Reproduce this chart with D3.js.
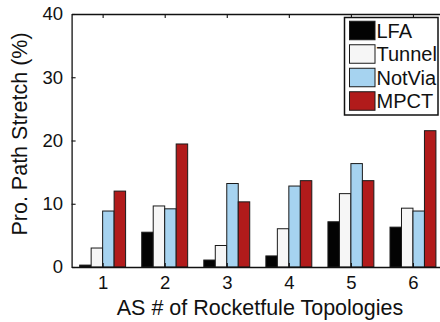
<!DOCTYPE html>
<html>
<head>
<meta charset="utf-8">
<script src="https://cdn.jsdelivr.net/npm/d3@7"></script>
<style>
html,body{margin:0;padding:0;background:#fff;}
svg{display:block;font-family:"Liberation Sans",Arial,Helvetica,sans-serif;}
</style>
</head>
<body>
<svg id="chart" width="440" height="322"></svg>
<script>
const categories = [1, 2, 3, 4, 5, 6];
const seriesNames = ["LFA", "Tunnel", "NotVia", "MPCT"];
const seriesColors = ["#030303", "#f6f6f6", "#a6d3f0", "#b11b1b"];
const LFA    = [0.3, 5.5, 1.1, 1.75, 7.15, 6.3];
const Tunnel = [3.0, 9.65, 3.4, 6.05, 11.6, 9.3];
const NotVia = [8.85, 9.2, 13.2, 12.8, 16.35, 8.85];
const MPCT   = [12.0, 19.45, 10.3, 13.65, 13.65, 21.55];
const yTicks = [0, 10, 20, 30, 40];
const xLabel = "AS # of Rocketfule Topologies";
const yLabel = "Pro. Path Stretch (%)";

const series = [LFA, Tunnel, NotVia, MPCT];

const svg = d3.select("#chart");
const pLeft = 71.6, pRight = 444, pTop = 14, pBottom = 267;
const x = d3.scaleLinear().domain([0.5, 6.5]).range([pLeft, pRight]);
const y = d3.scaleLinear().domain([0, 40]).range([pBottom, pTop]);
const barW = 0.185;

// bars
series.forEach((vals, si) => {
  svg.append("g").selectAll("rect").data(categories).join("rect")
    .attr("x", (c) => x(c + (si - 2) * barW))
    .attr("width", x(barW) - x(0))
    .attr("y", (c, i) => y(vals[i]))
    .attr("height", (c, i) => y(0) - y(vals[i]))
    .attr("fill", seriesColors[si])
    .attr("stroke", "#1a1a1a")
    .attr("stroke-width", 1);
});

// axes
const fs = 18.5;
const gl = svg.append("g").attr("transform", `translate(${pLeft},0)`)
  .call(d3.axisLeft(y).tickValues(yTicks).tickSizeInner(-4).tickSizeOuter(0).tickPadding(8.5).tickFormat(d3.format("d")));
const gb = svg.append("g").attr("transform", `translate(0,${pBottom})`)
  .call(d3.axisBottom(x).tickValues(categories).tickSizeInner(-4).tickSizeOuter(0).tickPadding(9).tickFormat(d3.format("d")));
const gt = svg.append("g").attr("transform", `translate(0,${pTop})`)
  .call(d3.axisTop(x).tickValues(categories).tickSizeInner(-4).tickSizeOuter(0).tickFormat(""));
const gr = svg.append("g").attr("transform", `translate(${pRight},0)`)
  .call(d3.axisRight(y).tickValues(yTicks).tickSizeInner(-4).tickSizeOuter(0).tickFormat(""));
[gl, gb, gt, gr].forEach(g => {
  g.selectAll("path.domain").attr("stroke", "#111").attr("stroke-width", 1.3);
  g.selectAll(".tick line").attr("stroke", "#111").attr("stroke-width", 1.1);
  g.selectAll(".tick text").attr("fill", "#111").style("font-size", fs + "px")
    .style("font-family", '"Liberation Sans",Arial,sans-serif');
});

// axis labels
svg.append("text")
  .attr("x", 260).attr("y", 315)
  .attr("text-anchor", "middle")
  .style("font-size", "21.5px").attr("fill", "#111")
  .text(xLabel);
svg.append("text")
  .attr("transform", "translate(27,134) rotate(-90)")
  .attr("text-anchor", "middle")
  .style("font-size", "21.5px").attr("fill", "#111")
  .text(yLabel);

// legend
const lg = svg.append("g");
lg.append("rect")
  .attr("x", 344.5).attr("y", 17.5).attr("width", 93.5).attr("height", 97.5)
  .attr("fill", "#fff").attr("stroke", "#111").attr("stroke-width", 1.5);
const ly = d3.scaleLinear().domain([0, 1]).range([30.5, 54]);
seriesNames.forEach((name, i) => {
  lg.append("rect")
    .attr("x", 349.5).attr("y", ly(i) - 9.25).attr("width", 25.5).attr("height", 18.5)
    .attr("fill", seriesColors[i]).attr("stroke", "#1a1a1a").attr("stroke-width", 1);
  lg.append("text")
    .attr("x", 376.5).attr("y", ly(i)).attr("dy", "0.36em")
    .style("font-size", "20px").attr("fill", "#111")
    .text(name);
});
</script>
</body>
</html>
